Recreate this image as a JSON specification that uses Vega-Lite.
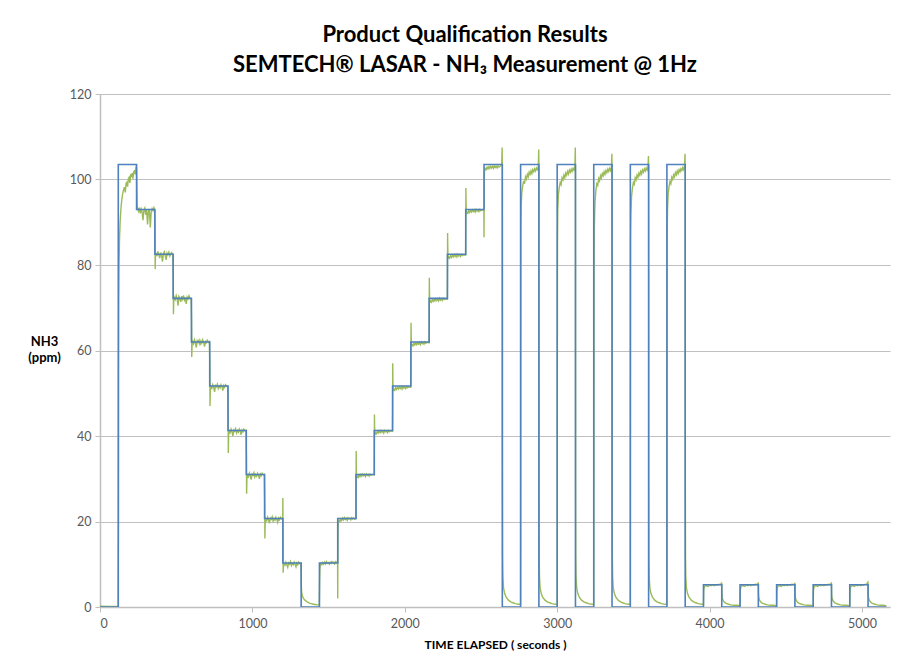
{
"$schema":"https://vega.github.io/schema/vega-lite/v6.json",
"width":790,"height":513,
"autosize":{"type":"none"},
"padding":{"left":100,"top":94,"right":30,"bottom":60},
"background":"white",
"config":{"font":"Lato","view":{"stroke":null}},
"title":{"text":["Product Qualification Results","SEMTECH® LASAR - NH₃ Measurement @ 1Hz"],"fontSize":22,"fontWeight":"bold","color":"#000000","lineHeight":30,"anchor":"middle","dx":-30,"offset":11,"font":"Lato"},
"datasets":{
"b":[{"t":0,"v":0},{"t":120,"v":103.5},{"t":240,"v":93},{"t":360,"v":82.5},{"t":480,"v":72.2},{"t":600,"v":62},{"t":720,"v":51.7},{"t":840,"v":41.3},{"t":960,"v":31},{"t":1080,"v":20.7},{"t":1200,"v":10.3},{"t":1320,"v":0},{"t":1440,"v":10.3},{"t":1560,"v":20.7},{"t":1680,"v":31},{"t":1800,"v":41.3},{"t":1920,"v":51.7},{"t":2040,"v":62},{"t":2160,"v":72.2},{"t":2280,"v":82.5},{"t":2400,"v":93},{"t":2520,"v":103.5},{"t":2640,"v":0},{"t":2760,"v":103.5},{"t":2880,"v":0},{"t":3000,"v":103.5},{"t":3120,"v":0},{"t":3240,"v":103.5},{"t":3360,"v":0},{"t":3480,"v":103.5},{"t":3600,"v":0},{"t":3720,"v":103.5},{"t":3840,"v":0},{"t":3960,"v":5.2},{"t":4080,"v":0},{"t":4200,"v":5.2},{"t":4320,"v":0},{"t":4440,"v":5.2},{"t":4560,"v":0},{"t":4680,"v":5.2},{"t":4800,"v":0},{"t":4920,"v":5.2},{"t":5040,"v":0},{"t":5160,"v":0}],
"g":[
{"t":0,"v":0.2},{"t":60,"v":0.1},{"t":119,"v":0.1},
{"t":121,"v":20},{"t":122,"v":55},{"t":123,"v":70},{"t":125,"v":80},{"t":128,"v":86},{"t":132,"v":90},{"t":137,"v":93},{"t":142,"v":95},{"t":148,"v":96.5},{"t":154,"v":97.5},{"t":160,"v":98.2},{"t":166,"v":97},{"t":171,"v":99},{"t":176,"v":99.5},{"t":181,"v":98.3},{"t":186,"v":100.2},{"t":191,"v":100.5},{"t":196,"v":99.2},{"t":201,"v":101},{"t":206,"v":100.8},{"t":211,"v":101.5},{"t":216,"v":100.2},{"t":221,"v":101.8},{"t":226,"v":102},{"t":231,"v":101.2},{"t":235,"v":102.5},{"t":238,"v":103.2},{"t":240,"v":102.4},
{"t":242,"v":98},{"t":244,"v":94},{"t":247,"v":93.2},{"t":252,"v":92.6},{"t":258,"v":93.4},{"t":264,"v":92.1},{"t":270,"v":93.1},{"t":276,"v":92.4},{"t":282,"v":90.5},{"t":288,"v":92.8},{"t":294,"v":93.3},{"t":300,"v":91.8},{"t":306,"v":92.9},{"t":312,"v":89.5},{"t":318,"v":92.6},{"t":324,"v":93.1},{"t":330,"v":88.8},{"t":336,"v":92.4},{"t":342,"v":93.2},{"t":348,"v":92.7},{"t":354,"v":93.4},{"t":359,"v":92.8},
{"t":361,"v":88},{"t":362,"v":79},{"t":364,"v":82},{"t":368,"v":82.8},{"t":374,"v":82.1},{"t":380,"v":83.2},{"t":386,"v":82.4},{"t":392,"v":81.6},{"t":398,"v":82.9},{"t":404,"v":82.3},{"t":410,"v":80.8},{"t":416,"v":82.7},{"t":422,"v":83.1},{"t":428,"v":82.2},{"t":434,"v":81.2},{"t":440,"v":82.8},{"t":446,"v":82.4},{"t":452,"v":83.0},{"t":458,"v":82.1},{"t":464,"v":82.6},{"t":470,"v":82.9},{"t":478,"v":82.4},
{"t":481,"v":77},{"t":482,"v":68.5},{"t":484,"v":71.5},{"t":488,"v":72.4},{"t":494,"v":71.9},{"t":500,"v":72.8},{"t":506,"v":72.1},{"t":512,"v":70.5},{"t":518,"v":72.6},{"t":524,"v":72.2},{"t":530,"v":71.4},{"t":536,"v":72.7},{"t":542,"v":72.0},{"t":548,"v":72.9},{"t":554,"v":71.8},{"t":560,"v":72.4},{"t":566,"v":70.9},{"t":572,"v":72.5},{"t":578,"v":72.1},{"t":584,"v":72.8},{"t":590,"v":72.3},{"t":598,"v":72.0},
{"t":601,"v":67},{"t":602,"v":58.5},{"t":604,"v":61.2},{"t":608,"v":62.1},{"t":614,"v":61.6},{"t":620,"v":62.5},{"t":626,"v":61.8},{"t":632,"v":60.7},{"t":638,"v":62.3},{"t":644,"v":61.9},{"t":650,"v":62.4},{"t":656,"v":61.2},{"t":662,"v":62.2},{"t":668,"v":61.7},{"t":674,"v":62.5},{"t":680,"v":61.9},{"t":686,"v":60.9},{"t":692,"v":62.1},{"t":698,"v":61.8},{"t":704,"v":62.4},{"t":712,"v":61.9},{"t":718,"v":62.1},
{"t":721,"v":56},{"t":722,"v":47},{"t":724,"v":50.8},{"t":728,"v":51.6},{"t":734,"v":51.2},{"t":740,"v":52.0},{"t":746,"v":51.4},{"t":752,"v":50.3},{"t":758,"v":51.8},{"t":764,"v":51.5},{"t":770,"v":52.1},{"t":776,"v":51.1},{"t":782,"v":51.7},{"t":788,"v":51.3},{"t":794,"v":52.0},{"t":800,"v":51.5},{"t":806,"v":50.6},{"t":812,"v":51.8},{"t":818,"v":51.4},{"t":824,"v":52.0},{"t":832,"v":51.6},{"t":838,"v":51.5},
{"t":841,"v":45},{"t":842,"v":36},{"t":844,"v":40.3},{"t":848,"v":41.2},{"t":854,"v":40.8},{"t":860,"v":41.6},{"t":866,"v":41.0},{"t":872,"v":40.0},{"t":878,"v":41.4},{"t":884,"v":41.1},{"t":890,"v":41.7},{"t":896,"v":40.7},{"t":902,"v":41.3},{"t":908,"v":40.9},{"t":914,"v":41.6},{"t":920,"v":41.1},{"t":926,"v":40.3},{"t":932,"v":41.4},{"t":938,"v":41.0},{"t":944,"v":41.6},{"t":952,"v":41.2},{"t":958,"v":41.3},
{"t":961,"v":35},{"t":962,"v":26.5},{"t":964,"v":30.0},{"t":968,"v":30.9},{"t":974,"v":30.5},{"t":980,"v":31.3},{"t":986,"v":30.7},{"t":992,"v":29.8},{"t":998,"v":31.1},{"t":1004,"v":30.8},{"t":1010,"v":31.4},{"t":1016,"v":30.4},{"t":1022,"v":31.0},{"t":1028,"v":30.6},{"t":1034,"v":31.3},{"t":1040,"v":30.8},{"t":1046,"v":30.0},{"t":1052,"v":31.1},{"t":1058,"v":30.7},{"t":1064,"v":31.3},{"t":1072,"v":30.9},{"t":1078,"v":31.0},
{"t":1081,"v":24},{"t":1082,"v":16},{"t":1084,"v":19.8},{"t":1088,"v":20.6},{"t":1094,"v":20.2},{"t":1100,"v":21.0},{"t":1106,"v":20.4},{"t":1112,"v":19.6},{"t":1118,"v":20.8},{"t":1124,"v":20.5},{"t":1130,"v":21.1},{"t":1136,"v":20.1},{"t":1142,"v":20.7},{"t":1148,"v":20.3},{"t":1154,"v":21.0},{"t":1160,"v":20.5},{"t":1166,"v":19.8},{"t":1172,"v":20.8},{"t":1178,"v":20.4},{"t":1184,"v":21.0},{"t":1192,"v":20.6},{"t":1199,"v":20.7},
{"t":1200,"v":25.5},{"t":1201,"v":18},{"t":1202,"v":8},{"t":1204,"v":9.6},{"t":1208,"v":10.1},{"t":1214,"v":9.8},{"t":1220,"v":10.5},{"t":1226,"v":9.9},{"t":1232,"v":9.3},{"t":1238,"v":10.3},{"t":1244,"v":10.0},{"t":1250,"v":10.6},{"t":1256,"v":9.7},{"t":1262,"v":10.2},{"t":1268,"v":9.9},{"t":1274,"v":10.5},{"t":1280,"v":10.0},{"t":1286,"v":9.4},{"t":1292,"v":10.3},{"t":1298,"v":9.9},{"t":1304,"v":10.5},{"t":1312,"v":10.1},{"t":1319,"v":10.2},
{"t":1321,"v":5},{"t":1323,"v":3.5},{"t":1328,"v":2.6},{"t":1335,"v":2.0},{"t":1345,"v":1.6},{"t":1355,"v":1.3},{"t":1365,"v":1.1},{"t":1375,"v":0.9},{"t":1385,"v":0.8},{"t":1395,"v":0.7},{"t":1405,"v":0.6},{"t":1415,"v":0.6},{"t":1425,"v":0.5},{"t":1439,"v":0.5},
{"t":1441,"v":6},{"t":1443,"v":9.0},{"t":1446,"v":9.8},{"t":1450,"v":10.2},{"t":1456,"v":9.9},{"t":1462,"v":10.4},{"t":1468,"v":10.0},{"t":1474,"v":10.5},{"t":1480,"v":10.1},{"t":1486,"v":10.6},{"t":1492,"v":10.2},{"t":1498,"v":10.4},{"t":1504,"v":10.0},{"t":1510,"v":10.5},{"t":1516,"v":10.2},{"t":1522,"v":10.6},{"t":1528,"v":10.3},{"t":1534,"v":10.5},{"t":1540,"v":10.1},{"t":1546,"v":10.6},{"t":1552,"v":10.4},{"t":1559,"v":10.5},
{"t":1560,"v":2},{"t":1561,"v":12},{"t":1562,"v":18},{"t":1564,"v":19.8},{"t":1568,"v":20.3},{"t":1574,"v":20.0},{"t":1580,"v":20.6},{"t":1586,"v":20.2},{"t":1592,"v":20.8},{"t":1598,"v":20.4},{"t":1604,"v":20.9},{"t":1610,"v":20.5},{"t":1616,"v":20.8},{"t":1622,"v":20.3},{"t":1628,"v":20.9},{"t":1634,"v":20.6},{"t":1640,"v":20.8},{"t":1646,"v":20.4},{"t":1652,"v":20.9},{"t":1658,"v":20.6},{"t":1664,"v":20.8},{"t":1672,"v":20.5},{"t":1679,"v":20.7},
{"t":1680,"v":25},{"t":1681,"v":36.5},{"t":1682,"v":32},{"t":1684,"v":30.2},{"t":1688,"v":30.6},{"t":1694,"v":30.3},{"t":1700,"v":30.9},{"t":1706,"v":30.5},{"t":1712,"v":31.0},{"t":1718,"v":30.6},{"t":1724,"v":31.1},{"t":1730,"v":30.7},{"t":1736,"v":31.0},{"t":1742,"v":30.5},{"t":1748,"v":31.1},{"t":1754,"v":30.8},{"t":1760,"v":31.0},{"t":1766,"v":30.6},{"t":1772,"v":31.1},{"t":1778,"v":30.8},{"t":1786,"v":31.0},{"t":1799,"v":30.9},
{"t":1800,"v":36},{"t":1801,"v":45},{"t":1802,"v":42},{"t":1804,"v":40.3},{"t":1808,"v":40.8},{"t":1814,"v":40.5},{"t":1820,"v":41.1},{"t":1826,"v":40.7},{"t":1832,"v":41.2},{"t":1838,"v":40.8},{"t":1844,"v":41.3},{"t":1850,"v":40.9},{"t":1856,"v":41.2},{"t":1862,"v":40.7},{"t":1868,"v":41.3},{"t":1874,"v":41.0},{"t":1880,"v":41.2},{"t":1886,"v":40.8},{"t":1892,"v":41.3},{"t":1898,"v":41.0},{"t":1906,"v":41.2},{"t":1919,"v":41.1},
{"t":1920,"v":46},{"t":1921,"v":57},{"t":1922,"v":53},{"t":1924,"v":50.6},{"t":1928,"v":51.0},{"t":1934,"v":50.7},{"t":1940,"v":51.3},{"t":1946,"v":50.9},{"t":1952,"v":51.4},{"t":1958,"v":51.0},{"t":1964,"v":51.5},{"t":1970,"v":51.1},{"t":1976,"v":51.5},{"t":1982,"v":51.0},{"t":1988,"v":51.6},{"t":1994,"v":51.2},{"t":2000,"v":51.5},{"t":2006,"v":51.1},{"t":2012,"v":51.6},{"t":2018,"v":51.3},{"t":2026,"v":51.5},{"t":2039,"v":51.4},
{"t":2040,"v":56},{"t":2041,"v":66.5},{"t":2042,"v":63.5},{"t":2044,"v":61.0},{"t":2048,"v":61.4},{"t":2054,"v":61.1},{"t":2060,"v":61.7},{"t":2066,"v":61.3},{"t":2072,"v":61.8},{"t":2078,"v":61.4},{"t":2084,"v":61.9},{"t":2090,"v":61.5},{"t":2096,"v":61.9},{"t":2102,"v":61.4},{"t":2108,"v":62.0},{"t":2114,"v":61.6},{"t":2120,"v":61.9},{"t":2126,"v":61.5},{"t":2132,"v":62.0},{"t":2138,"v":61.7},{"t":2146,"v":61.9},{"t":2159,"v":61.8},
{"t":2160,"v":67},{"t":2161,"v":77},{"t":2162,"v":74},{"t":2164,"v":71.2},{"t":2168,"v":71.6},{"t":2174,"v":71.3},{"t":2180,"v":71.9},{"t":2186,"v":71.5},{"t":2192,"v":72.0},{"t":2198,"v":71.6},{"t":2204,"v":72.1},{"t":2210,"v":71.7},{"t":2216,"v":72.1},{"t":2222,"v":71.6},{"t":2228,"v":72.2},{"t":2234,"v":71.8},{"t":2240,"v":72.1},{"t":2246,"v":71.7},{"t":2252,"v":72.2},{"t":2258,"v":71.9},{"t":2266,"v":72.1},{"t":2279,"v":72.0},
{"t":2280,"v":77},{"t":2281,"v":87.5},{"t":2282,"v":84.5},{"t":2284,"v":81.5},{"t":2288,"v":81.9},{"t":2294,"v":81.6},{"t":2300,"v":82.2},{"t":2306,"v":81.8},{"t":2312,"v":82.3},{"t":2318,"v":81.9},{"t":2324,"v":82.4},{"t":2330,"v":82.0},{"t":2336,"v":82.4},{"t":2342,"v":81.9},{"t":2348,"v":82.5},{"t":2354,"v":82.1},{"t":2360,"v":82.4},{"t":2366,"v":82.0},{"t":2372,"v":82.5},{"t":2378,"v":82.2},{"t":2386,"v":82.4},{"t":2399,"v":82.3},
{"t":2400,"v":88},{"t":2401,"v":98},{"t":2402,"v":95},{"t":2404,"v":92.0},{"t":2408,"v":92.4},{"t":2414,"v":92.1},{"t":2420,"v":92.7},{"t":2426,"v":92.3},{"t":2432,"v":92.8},{"t":2438,"v":92.4},{"t":2444,"v":92.9},{"t":2450,"v":92.5},{"t":2456,"v":92.9},{"t":2462,"v":92.4},{"t":2468,"v":93.0},{"t":2474,"v":92.6},{"t":2480,"v":92.9},{"t":2486,"v":92.5},{"t":2492,"v":93.0},{"t":2498,"v":92.7},{"t":2506,"v":92.9},{"t":2519,"v":92.8},
{"t":2520,"v":86.5},{"t":2521,"v":96},{"t":2522,"v":101},{"t":2524,"v":102.2},{"t":2528,"v":102.6},{"t":2534,"v":102.3},{"t":2540,"v":102.9},{"t":2546,"v":102.5},{"t":2552,"v":103.0},{"t":2558,"v":102.6},{"t":2564,"v":103.1},{"t":2570,"v":102.7},{"t":2576,"v":103.1},{"t":2582,"v":102.6},{"t":2588,"v":103.2},{"t":2594,"v":102.8},{"t":2600,"v":103.1},{"t":2606,"v":102.7},{"t":2612,"v":103.2},{"t":2618,"v":102.9},{"t":2626,"v":103.1},{"t":2636,"v":103.4},{"t":2639,"v":107.5},
{"t":2640,"v":103},{"t":2641,"v":30},{"t":2642,"v":12},{"t":2644,"v":7},{"t":2648,"v":4.5},{"t":2655,"v":3.2},{"t":2665,"v":2.3},{"t":2680,"v":1.6},{"t":2695,"v":1.2},{"t":2710,"v":1.0},{"t":2725,"v":0.8},{"t":2740,"v":0.7},{"t":2759,"v":0.6},
{"t":2760,"v":0.6},{"t":2761,"v":50},{"t":2762,"v":88},{"t":2764,"v":94},{"t":2768,"v":97},{"t":2774,"v":98.5},{"t":2780,"v":99.7},{"t":2786,"v":99.0},{"t":2792,"v":100.6},{"t":2798,"v":100.1},{"t":2804,"v":101.2},{"t":2810,"v":100.6},{"t":2816,"v":101.7},{"t":2822,"v":101.2},{"t":2828,"v":102.0},{"t":2834,"v":101.4},{"t":2840,"v":102.3},{"t":2846,"v":101.8},{"t":2852,"v":102.5},{"t":2858,"v":102.0},{"t":2864,"v":102.7},{"t":2870,"v":102.3},{"t":2876,"v":103.0},{"t":2879,"v":107.0},
{"t":2880,"v":103},{"t":2881,"v":30},{"t":2882,"v":12},{"t":2884,"v":7},{"t":2888,"v":4.5},{"t":2895,"v":3.2},{"t":2905,"v":2.3},{"t":2920,"v":1.6},{"t":2935,"v":1.2},{"t":2950,"v":1.0},{"t":2965,"v":0.8},{"t":2980,"v":0.7},{"t":2999,"v":0.6},
{"t":3000,"v":0.6},{"t":3001,"v":50},{"t":3002,"v":85},{"t":3004,"v":93},{"t":3008,"v":96.5},{"t":3014,"v":98.2},{"t":3020,"v":99.3},{"t":3026,"v":98.8},{"t":3032,"v":100.4},{"t":3038,"v":99.9},{"t":3044,"v":101.0},{"t":3050,"v":100.4},{"t":3056,"v":101.5},{"t":3062,"v":101.0},{"t":3068,"v":101.9},{"t":3074,"v":101.3},{"t":3080,"v":102.2},{"t":3086,"v":101.7},{"t":3092,"v":102.4},{"t":3098,"v":101.9},{"t":3104,"v":102.6},{"t":3110,"v":102.2},{"t":3116,"v":103.0},{"t":3119,"v":107.5},
{"t":3120,"v":103},{"t":3121,"v":30},{"t":3122,"v":12},{"t":3124,"v":7},{"t":3128,"v":4.5},{"t":3135,"v":3.2},{"t":3145,"v":2.3},{"t":3160,"v":1.6},{"t":3175,"v":1.2},{"t":3190,"v":1.0},{"t":3205,"v":0.8},{"t":3220,"v":0.7},{"t":3239,"v":0.6},
{"t":3240,"v":0.6},{"t":3241,"v":40},{"t":3242,"v":78},{"t":3244,"v":89},{"t":3248,"v":94.5},{"t":3254,"v":97.5},{"t":3260,"v":99.0},{"t":3266,"v":98.6},{"t":3272,"v":100.2},{"t":3278,"v":99.7},{"t":3284,"v":100.9},{"t":3290,"v":100.3},{"t":3296,"v":101.4},{"t":3302,"v":100.9},{"t":3308,"v":101.8},{"t":3314,"v":101.2},{"t":3320,"v":102.1},{"t":3326,"v":101.6},{"t":3332,"v":102.4},{"t":3338,"v":101.9},{"t":3344,"v":102.6},{"t":3350,"v":102.1},{"t":3356,"v":102.9},{"t":3359,"v":106.0},
{"t":3360,"v":103},{"t":3361,"v":30},{"t":3362,"v":12},{"t":3364,"v":7},{"t":3368,"v":4.5},{"t":3375,"v":3.2},{"t":3385,"v":2.3},{"t":3400,"v":1.6},{"t":3415,"v":1.2},{"t":3430,"v":1.0},{"t":3445,"v":0.8},{"t":3460,"v":0.7},{"t":3479,"v":0.6},
{"t":3480,"v":0.6},{"t":3481,"v":50},{"t":3482,"v":86},{"t":3484,"v":92},{"t":3488,"v":96},{"t":3494,"v":98.0},{"t":3500,"v":99.3},{"t":3506,"v":98.9},{"t":3512,"v":100.4},{"t":3518,"v":99.9},{"t":3524,"v":101.0},{"t":3530,"v":100.5},{"t":3536,"v":101.5},{"t":3542,"v":101.0},{"t":3548,"v":101.9},{"t":3554,"v":101.3},{"t":3560,"v":102.2},{"t":3566,"v":101.7},{"t":3572,"v":102.5},{"t":3578,"v":102.0},{"t":3584,"v":102.7},{"t":3590,"v":102.2},{"t":3596,"v":103.0},{"t":3599,"v":105.5},
{"t":3600,"v":103},{"t":3601,"v":30},{"t":3602,"v":12},{"t":3604,"v":7},{"t":3608,"v":4.5},{"t":3615,"v":3.2},{"t":3625,"v":2.3},{"t":3640,"v":1.6},{"t":3655,"v":1.2},{"t":3670,"v":1.0},{"t":3685,"v":0.8},{"t":3700,"v":0.7},{"t":3719,"v":0.6},
{"t":3720,"v":0.6},{"t":3721,"v":50},{"t":3722,"v":87},{"t":3724,"v":93},{"t":3728,"v":96.5},{"t":3734,"v":98.3},{"t":3740,"v":99.5},{"t":3746,"v":99.0},{"t":3752,"v":100.5},{"t":3758,"v":100.0},{"t":3764,"v":101.1},{"t":3770,"v":100.6},{"t":3776,"v":101.6},{"t":3782,"v":101.1},{"t":3788,"v":102.0},{"t":3794,"v":101.4},{"t":3800,"v":102.3},{"t":3806,"v":101.8},{"t":3812,"v":102.5},{"t":3818,"v":102.1},{"t":3824,"v":102.8},{"t":3830,"v":102.3},{"t":3836,"v":103.1},{"t":3839,"v":106.0},
{"t":3840,"v":103},{"t":3841,"v":30},{"t":3842,"v":12},{"t":3844,"v":7},{"t":3848,"v":4.5},{"t":3855,"v":3.2},{"t":3865,"v":2.3},{"t":3880,"v":1.6},{"t":3895,"v":1.2},{"t":3910,"v":1.0},{"t":3925,"v":0.8},{"t":3940,"v":0.7},{"t":3959,"v":0.6},
{"t":3960,"v":0.6},{"t":3961,"v":2.5},{"t":3962,"v":4.0},{"t":3965,"v":4.6},{"t":3970,"v":4.9},{"t":3980,"v":5.0},{"t":3990,"v":4.8},{"t":4000,"v":5.1},{"t":4010,"v":5.0},{"t":4020,"v":5.2},{"t":4030,"v":5.0},{"t":4040,"v":5.2},{"t":4050,"v":5.1},{"t":4060,"v":5.3},{"t":4070,"v":5.2},{"t":4079,"v":5.6},
{"t":4080,"v":5.5},{"t":4081,"v":3.0},{"t":4083,"v":2.2},{"t":4088,"v":1.6},{"t":4095,"v":1.2},{"t":4105,"v":0.9},{"t":4120,"v":0.7},{"t":4140,"v":0.5},{"t":4160,"v":0.4},{"t":4180,"v":0.4},{"t":4199,"v":0.3},
{"t":4200,"v":0.3},{"t":4201,"v":2.5},{"t":4202,"v":4.0},{"t":4205,"v":4.6},{"t":4210,"v":4.9},{"t":4220,"v":5.0},{"t":4230,"v":4.8},{"t":4240,"v":5.1},{"t":4250,"v":5.0},{"t":4260,"v":5.2},{"t":4270,"v":5.0},{"t":4280,"v":5.2},{"t":4290,"v":5.1},{"t":4300,"v":5.3},{"t":4310,"v":5.2},{"t":4319,"v":5.6},
{"t":4320,"v":5.5},{"t":4321,"v":3.0},{"t":4323,"v":2.2},{"t":4328,"v":1.6},{"t":4335,"v":1.2},{"t":4345,"v":0.9},{"t":4360,"v":0.7},{"t":4380,"v":0.5},{"t":4400,"v":0.4},{"t":4420,"v":0.4},{"t":4439,"v":0.3},
{"t":4440,"v":0.3},{"t":4441,"v":2.5},{"t":4442,"v":4.0},{"t":4445,"v":4.6},{"t":4450,"v":4.9},{"t":4460,"v":5.0},{"t":4470,"v":4.8},{"t":4480,"v":5.1},{"t":4490,"v":5.0},{"t":4500,"v":5.2},{"t":4510,"v":5.0},{"t":4520,"v":5.2},{"t":4530,"v":5.1},{"t":4540,"v":5.3},{"t":4550,"v":5.2},{"t":4559,"v":5.5},
{"t":4560,"v":5.4},{"t":4561,"v":3.0},{"t":4563,"v":2.2},{"t":4568,"v":1.6},{"t":4575,"v":1.2},{"t":4585,"v":0.9},{"t":4600,"v":0.7},{"t":4620,"v":0.5},{"t":4640,"v":0.4},{"t":4660,"v":0.4},{"t":4679,"v":0.3},
{"t":4680,"v":0.3},{"t":4681,"v":2.5},{"t":4682,"v":4.0},{"t":4685,"v":4.6},{"t":4690,"v":4.9},{"t":4700,"v":5.0},{"t":4710,"v":4.8},{"t":4720,"v":5.1},{"t":4730,"v":5.0},{"t":4740,"v":5.2},{"t":4750,"v":5.0},{"t":4760,"v":5.2},{"t":4770,"v":5.1},{"t":4780,"v":5.3},{"t":4790,"v":5.2},{"t":4799,"v":5.6},
{"t":4800,"v":5.5},{"t":4801,"v":3.0},{"t":4803,"v":2.2},{"t":4808,"v":1.6},{"t":4815,"v":1.2},{"t":4825,"v":0.9},{"t":4840,"v":0.7},{"t":4860,"v":0.5},{"t":4880,"v":0.4},{"t":4900,"v":0.4},{"t":4919,"v":0.3},
{"t":4920,"v":0.3},{"t":4921,"v":2.5},{"t":4922,"v":4.0},{"t":4925,"v":4.6},{"t":4930,"v":4.9},{"t":4940,"v":5.0},{"t":4950,"v":4.8},{"t":4960,"v":5.1},{"t":4970,"v":5.0},{"t":4980,"v":5.2},{"t":4990,"v":5.0},{"t":5000,"v":5.2},{"t":5010,"v":5.1},{"t":5020,"v":5.3},{"t":5030,"v":5.3},{"t":5039,"v":5.8},
{"t":5040,"v":5.6},{"t":5041,"v":3.0},{"t":5043,"v":2.2},{"t":5048,"v":1.6},{"t":5055,"v":1.2},{"t":5065,"v":0.9},{"t":5080,"v":0.7},{"t":5100,"v":0.5},{"t":5120,"v":0.4},{"t":5140,"v":0.4},{"t":5160,"v":0.3}
]},
"encoding":{
"x":{"field":"t","type":"quantitative","scale":{"domain":[0,5184],"nice":false,"zero":false},
"axis":{"values":[0,1000,2000,3000,4000,5000],"format":"d","grid":false,"title":"TIME ELAPSED ( seconds )","titleFontSize":12,"titleFontWeight":"bold","titleColor":"#000000","titlePadding":10,"labelFontSize":12.5,"labelColor":"#595959","labelPadding":5,"domainColor":"#bfbfbf","domainWidth":1.5,"tickColor":"#bfbfbf","tickSize":5,"labelFont":"Lato","titleFont":"Lato"}},
"y":{"field":"v","type":"quantitative","scale":{"domain":[0,120],"nice":false},
"axis":{"values":[0,20,40,60,80,100,120],"grid":true,"gridColor":"#c0c0c0","gridWidth":1,"title":["NH3","(ppm)"],"titleAngle":0,"titleAlign":"center","titleBaseline":"top","titleX":-56,"titleY":241,"titleFontSize":13,"titleFontWeight":"bold","titleColor":"#000000","titleLineHeight":16,"labelFontSize":12.5,"labelColor":"#595959","labelPadding":4,"domainColor":"#bfbfbf","domainWidth":1.5,"tickColor":"#bfbfbf","tickSize":5,"labelFont":"Lato","titleFont":"Lato"}}
},
"layer":[
{"data":{"name":"g"},"mark":{"type":"line","color":"#9bbb59","strokeWidth":1.4,"clip":true}},
{"data":{"name":"b"},"mark":{"type":"line","color":"#4f81bd","strokeWidth":1.6,"interpolate":"step-after","clip":true}}
]
}
